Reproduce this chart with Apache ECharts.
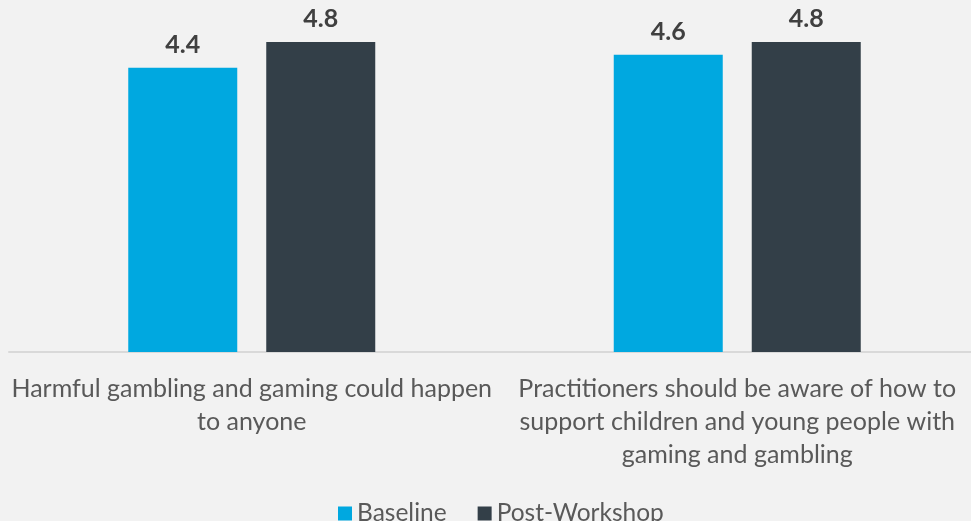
<!DOCTYPE html>
<html>
<head>
<meta charset="utf-8">
<script src="https://cdn.jsdelivr.net/npm/echarts@6/dist/echarts.min.js"></script>
<style>
  html, body { margin: 0; padding: 0; background: #F2F2F2; overflow: hidden; }
  #wrap { width: 971px; height: 521px; overflow: hidden; }
  #chart { width: 990px; height: 521px; }
</style>
</head>
<body>
<div id="wrap"><div id="chart"></div></div>
<script>
// Survey statements (category axis)
const categories = [
  'Harmful gambling and gaming could happen\nto anyone',
  'Practitioners should be aware of how to\nsupport children and young people with\ngaming and gambling'
];
// Mean agreement scores
const baseline = [4.4, 4.6];
const postWorkshop = [4.8, 4.8];

const FONT = 'Lato, "Open Sans", sans-serif';

const chart = echarts.init(document.getElementById('chart'));
chart.setOption({
  backgroundColor: '#F2F2F2',
  animation: false,
  // the plot runs slightly past the right edge of the visible frame
  grid: { left: 9, width: 971, top: 29, bottom: 169 },
  legend: {
    left: 333,
    top: 496,
    itemWidth: 14,
    itemHeight: 14,
    itemGap: 31,
    icon: 'rect',
    textStyle: { fontFamily: FONT, fontSize: 24.5, color: '#595959' },
    data: ['Baseline', 'Post-Workshop']
  },
  xAxis: {
    type: 'category',
    data: categories,
    axisLine: { lineStyle: { color: '#D9D9D9', width: 2 } },
    axisTick: { show: false },
    axisLabel: {
      interval: 0,
      margin: 20,
      fontFamily: FONT,
      fontSize: 25,
      lineHeight: 33,
      color: '#595959',
      align: 'center'
    }
  },
  yAxis: {
    type: 'value',
    min: 0,
    max: 5,
    show: false,
    splitLine: { show: false }
  },
  series: [
    {
      name: 'Baseline',
      type: 'bar',
      data: baseline,
      barWidth: 109,
      barGap: '26.6%',
      itemStyle: { color: '#00A8E0' },
      label: {
        show: true,
        position: 'top',
        distance: 10,
        fontFamily: FONT,
        fontSize: 25,
        fontWeight: 'bold',
        color: '#404040',
        formatter: p => p.value.toFixed(1)
      }
    },
    {
      name: 'Post-Workshop',
      type: 'bar',
      data: postWorkshop,
      barWidth: 109,
      itemStyle: { color: '#333F48' },
      label: {
        show: true,
        position: 'top',
        distance: 10,
        fontFamily: FONT,
        fontSize: 25,
        fontWeight: 'bold',
        color: '#404040',
        formatter: p => p.value.toFixed(1)
      }
    }
  ]
});
</script>
</body>
</html>
